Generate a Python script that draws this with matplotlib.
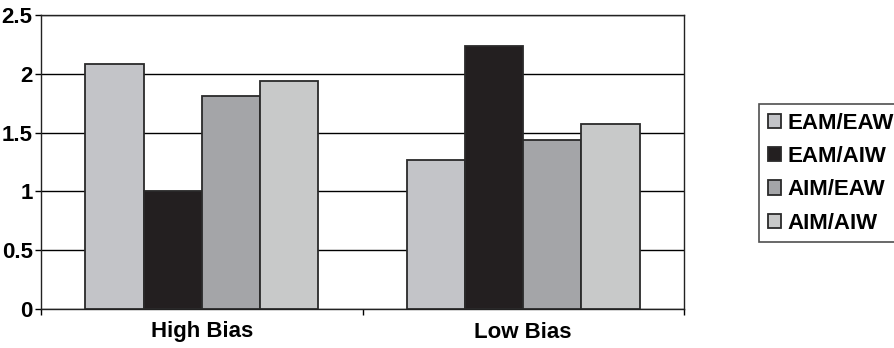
import numpy as np
import matplotlib.pyplot as plt
from matplotlib.ticker import FixedLocator

plt.rcParams['font.family'] = ['Liberation Sans', 'DejaVu Sans']
plt.rcParams['font.weight'] = 'bold'

categories = ['High Bias', 'Low Bias']
series = ['EAM/EAW', 'EAM/AIW', 'AIM/EAW', 'AIM/AIW']
values = {
    'EAM/EAW': [2.08, 1.27],
    'EAM/AIW': [1.0, 2.24],
    'AIM/EAW': [1.81, 1.44],
    'AIM/AIW': [1.94, 1.57],
}
colors = ['#c3c4c8', '#231f20', '#a4a5a8', '#c8c9c9']

fig = plt.figure(figsize=(8.94, 3.48), dpi=100)
ax = fig.add_axes([41 / 894, 39 / 348, 643 / 894, 294 / 348])

x = np.arange(len(categories))
width = 0.181
for i, (name, col) in enumerate(zip(series, colors)):
    offs = (i - 1.5) * width
    ax.bar(x + offs, values[name], width, color=col, edgecolor='#2a2a2a',
           linewidth=1.3, label=name, zorder=3)

ax.set_xlim(-0.5, 1.5)
ax.set_ylim(0, 2.5)
ax.set_yticks([0, 0.5, 1, 1.5, 2, 2.5])
ax.set_yticklabels(['0', '0.5', '1', '1.5', '2', '2.5'])
ax.yaxis.grid(True, color='black', linewidth=1.0, zorder=0)
ax.set_axisbelow(True)

ax.set_xticks(x)
ax.set_xticklabels(categories)
ax.tick_params(axis='x', length=0, pad=9, labelsize=16)
ax.xaxis.set_minor_locator(FixedLocator([-0.5, 0.5, 1.5]))
ax.tick_params(axis='x', which='minor', length=4, width=1, direction='out')
ax.tick_params(axis='y', length=4, width=1, direction='out', pad=2, labelsize=16)

for s in ax.spines.values():
    s.set_color('#222222')
    s.set_linewidth(1.0)

leg = fig.legend(loc='upper left', bbox_to_anchor=(759 / 894, (348 - 104) / 348),
                 borderaxespad=0, frameon=True, fancybox=False, edgecolor='#222222',
                 fontsize=16, handlelength=0.6, handleheight=0.6, handletextpad=0.3,
                 labelspacing=0.55, borderpad=0.4)
leg.get_frame().set_linewidth(1.2)

fig.savefig('out.png', dpi=100)
